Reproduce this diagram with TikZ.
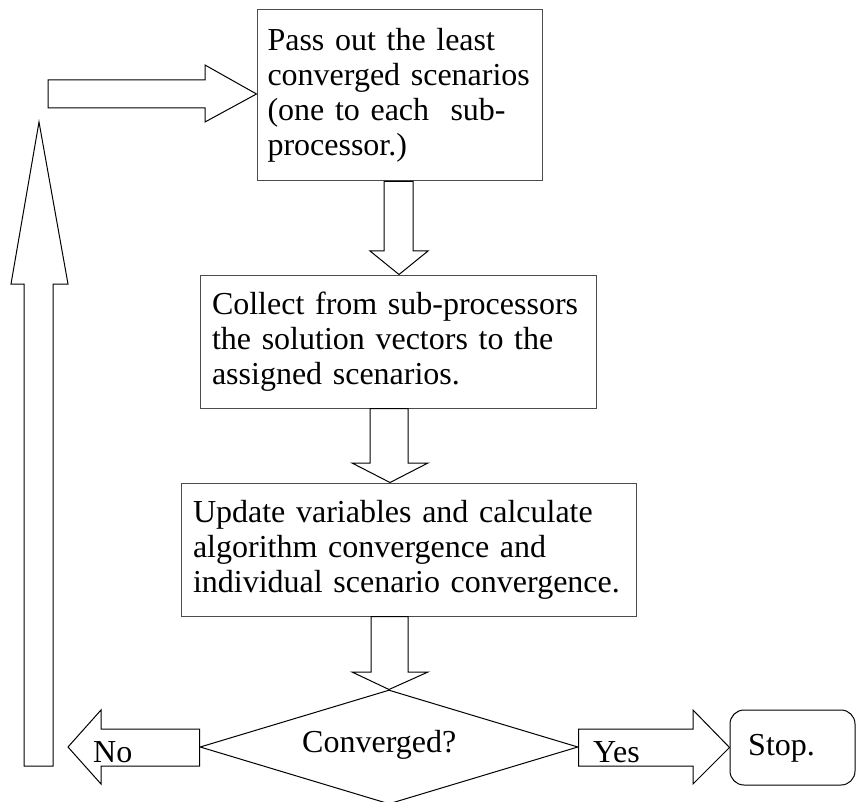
\documentclass[tikz,border=0pt]{standalone}
\usepackage{fontspec}
\setmainfont{Liberation Serif}
\usetikzlibrary{shapes.geometric}
\begin{document}
\begin{tikzpicture}[x=1pt,y=-1pt,
  txt/.style={font=\fontsize{32}{35}\selectfont},
  box/.style={txt, draw=black!70, line width=1pt, rectangle, inner sep=0pt, align=left},
  blk/.style={draw=black, line width=1pt, fill=white, line join=miter},
  lab/.style={txt, inner sep=0pt, anchor=base west}]
\useasboundingbox (0,0) rectangle (856,802);
% boxes
\node[box, minimum width=285, minimum height=171, text width=264] (b1) at (399.5,95.5)
  {Pass out the least\\converged scenarios\\(one to each\ \ sub-\\processor.)};
\node[box, minimum width=396, minimum height=133, text width=372] (b2) at (398,341.5)
  {Collect from sub-processors\\the solution vectors to the\\assigned scenarios.};
\node[box, minimum width=455, minimum height=133, text width=431] (b3) at (408.5,549.5)
  {Update variables and calculate\\algorithm convergence and\\individual scenario convergence.};
\node[draw=black, line width=1pt, shape=diamond, minimum width=378, minimum height=114, inner sep=0pt] (d) at (389,747) {};
\node[lab] (dl) at (302,752) {Converged?};
\node[draw=black, line width=1pt, rectangle, rounded corners=14pt, minimum width=125, minimum height=75, inner sep=0pt] (stop) at (792.5,747.5) {};
\node[lab] (stopl) at (748,755) {Stop.};
% block arrows between boxes
\draw[blk] (b1.south -| 384,0) -- (384,251) -- (370,251) -- (b2.north -| 399,0) -- (428,251) -- (413,251) -- (b1.south -| 413,0) -- cycle;
\draw[blk] (b2.south -| 370,0) -- (370,463) -- (352,463) -- (b3.north -| 390,0) -- (428,463) -- (408,463) -- (b2.south -| 408,0) -- cycle;
\draw[blk] (b3.south -| 371,0) -- (371,672) -- (352,672) -- (d.north) -- (428,672) -- (408,672) -- (b3.south -| 408,0) -- cycle;
% No arrow
\draw[blk] (d.west |- 0,729) -- (101,729) -- (101,710) -- (68,747) -- (101,784) -- (101,766) -- (d.west |- 0,766) -- cycle;
\node[lab] (nol) at (93,762) {No};
% Yes arrow
\draw[blk] (d.east |- 0,729) -- (693,729) -- (693,710) -- (stop.west) -- (693,784) -- (693,766) -- (d.east |- 0,766) -- cycle;
\node[lab] (yesl) at (593,762) {Yes};
% return arrows
\draw[blk] (24,766) -- (24,284) -- (11,284) -- (39,122) -- (68,284) -- (53,284) -- (53,766) -- cycle;
\draw[blk] (48,80) -- (205,80) -- (205,65) -- (b1.west |- 0,94) -- (205,122) -- (205,108) -- (48,108) -- cycle;
\end{tikzpicture}
\end{document}
